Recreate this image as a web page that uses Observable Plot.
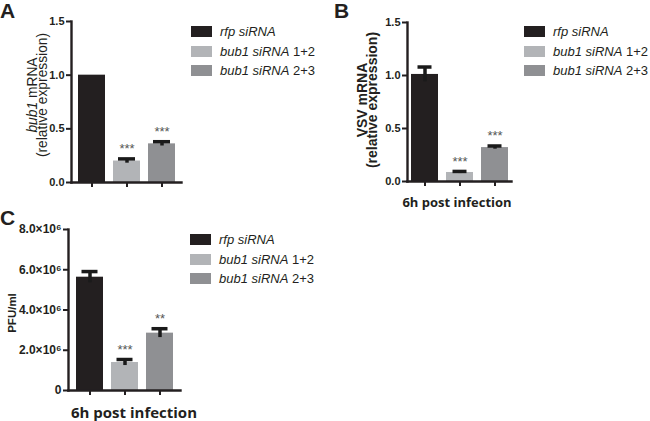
<!DOCTYPE html>
<html><head><meta charset="utf-8">
<script src="https://cdn.jsdelivr.net/npm/d3@7"></script>
<script src="https://cdn.jsdelivr.net/npm/@observablehq/plot@0.6"></script>
<style>
body{margin:0;background:#fff;}
#fig{position:relative;width:650px;height:421px;overflow:hidden;font-family:"Liberation Sans",Arial,sans-serif;color:#231f20;}
.abs{position:absolute;white-space:nowrap;}
.letter{font-family:"Liberation Sans",Arial,sans-serif;font-weight:bold;font-size:21px;line-height:1;}
.xlab{font-family:"Open Sans",sans-serif;font-weight:bold;font-size:13px;line-height:1;transform:translate(-50%,-50%);}
.ylab{transform:translate(-50%,-50%) rotate(-90deg);text-align:center;line-height:9.5px;}
.leg{font-size:13px;}
.row{position:absolute;left:0;height:14px;line-height:14px;}
.sw{position:absolute;width:21px;height:11px;top:1px;}
.lt{position:absolute;}
</style></head><body><div id="fig"></div><script>
const groups = ["rfp siRNA", "bub1 siRNA 1+2", "bub1 siRNA 2+3"];
const legendItalic = ["rfp siRNA", "bub1 siRNA", "bub1 siRNA"];
const legendSuffix = ["", " 1+2", " 2+3"];
const colors = ["#231f20", "#b2b4b7", "#8f9093"];

const aValues = [1.0, 0.2, 0.36];
const aErrors = [0, 0.02, 0.02];
const aStars = ["", "***", "***"];

const bValues = [1.01, 0.085, 0.32];
const bErrors = [0.07, 0.01, 0.015];
const bStars = ["", "***", "***"];

const cValues = [5.63e6, 1.39e6, 2.85e6];
const cErrors = [0.28e6, 0.15e6, 0.22e6];
const cStars = ["", "***", "**"];

const abTicks = [0, 0.5, 1.0, 1.5];
const abTickLabels = ["0.0", "0.5", "1.0", "1.5"];
const cTicks = [0, 2e6, 4e6, 6e6, 8e6];
const cTickLabels = ["0", "2.0×10⁶", "4.0×10⁶", "6.0×10⁶", "8.0×10⁶"];

const fig = document.getElementById("fig");

function panel(o) {
  const data = groups.map((g, i) => ({g, v: o.values[i], e: o.errors[i], s: o.stars[i],
    lo: o.values[i] - o.errors[i], hi: o.values[i] + o.errors[i]}));
  const errData = data.filter(d => d.e > 0);
  const starData = data.filter(d => d.s);
  const svg = Plot.plot({
    width: o.width, height: o.height,
    marginLeft: o.ml, marginRight: o.mr, marginTop: o.mt, marginBottom: o.mb,
    style: {fontFamily: '"Liberation Sans", Arial, sans-serif', fontSize: o.fs + "px", color: "#231f20", background: "transparent", overflow: "visible"},
    x: {type: "band", domain: groups, paddingInner: 0.24, paddingOuter: o.po, axis: null},
    y: {domain: [o.ticks[0], o.ticks[o.ticks.length - 1]], axis: null},
    color: {domain: groups, range: colors},
    marks: [
      Plot.barY(data, {x: "g", y: "v", fill: "g"}),
      Plot.ruleX(errData, {x: "g", y1: "lo", y2: "hi", stroke: "#1a1a1a", strokeWidth: 3.5}),
      Plot.tickY(errData, {x: "g", y: "hi", stroke: "#1a1a1a", strokeWidth: 3.5, insetLeft: o.cap, insetRight: o.cap}),
      Plot.text(starData, {x: "g", y: "hi", text: "s", dy: -10, fill: "#555", fontSize: 13}),
      Plot.axisY({ticks: o.ticks, tickFormat: d => o.labels[o.ticks.indexOf(d)], tickSize: 5, tickPadding: 2, strokeWidth: 2, label: null, fontWeight: "bold"}),
      Plot.axisX({tickSize: 5, tickFormat: () => "", strokeWidth: 2, label: null}),
      Plot.frame({anchor: "left", strokeWidth: 2.4}),
      Plot.frame({anchor: "bottom", strokeWidth: 2.4})
    ]
  });
  svg.style.position = "absolute";
  svg.style.left = o.left + "px";
  svg.style.top = o.top + "px";
  fig.appendChild(svg);
}

panel({values: aValues, errors: aErrors, stars: aStars, ticks: abTicks, labels: abTickLabels, fs: 11,
  left: 0, top: 0, width: 190, height: 200, ml: 71, mr: 9, mt: 21, mb: 18, po: 0.17, cap: 5});
panel({values: bValues, errors: bErrors, stars: bStars, ticks: abTicks, labels: abTickLabels, fs: 11,
  left: 336, top: 0, width: 190, height: 200, ml: 71, mr: 15, mt: 22, mb: 19, po: 0.085, cap: 6.5});
panel({values: cValues, errors: cErrors, stars: cStars, ticks: cTicks, labels: cTickLabels, fs: 12,
  left: 0, top: 210, width: 190, height: 195, ml: 68, mr: 10, mt: 19, mb: 15, po: 0.2, cap: 5.5});

function addDiv(cls, html, x, y, css) {
  const d = document.createElement("div");
  d.className = "abs " + cls;
  d.innerHTML = html;
  d.style.left = x + "px";
  d.style.top = y + "px";
  if (css) Object.assign(d.style, css);
  fig.appendChild(d);
  return d;
}

addDiv("letter", "A", 0, 0);
addDiv("letter", "B", 334, 0);
addDiv("letter", "C", 0, 207);

addDiv("xlab", "6h post infection", 457, 202);
addDiv("xlab", "6h post infection", 134, 412, {fontSize: "15px"});

addDiv("ylab", "<i>bub1</i> mRNA<br>(relative expression)", 37, 95, {fontSize: "13.8px"});
addDiv("ylab", "<b>VSV mRNA<br>(relative expression)</b>", 367, 100, {fontSize: "14px"});
addDiv("ylab", "<b>PFU/ml</b>", 13, 313, {fontSize: "11.5px"});

function legend(x, y, textX) {
  const box = addDiv("leg", "", x, y);
  groups.forEach((g, i) => {
    const r = document.createElement("div");
    r.className = "row";
    r.style.top = (i * 19.5) + "px";
    r.innerHTML = `<span class="sw" style="left:0;background:${colors[i]}"></span>` +
      `<span class="lt" style="left:${textX}px"><i>${legendItalic[i]}</i>${legendSuffix[i]}</span>`;
    box.appendChild(r);
  });
}
legend(191, 25, 29);
legend(524, 25, 29);
legend(190, 233, 29);
</script></body></html>
